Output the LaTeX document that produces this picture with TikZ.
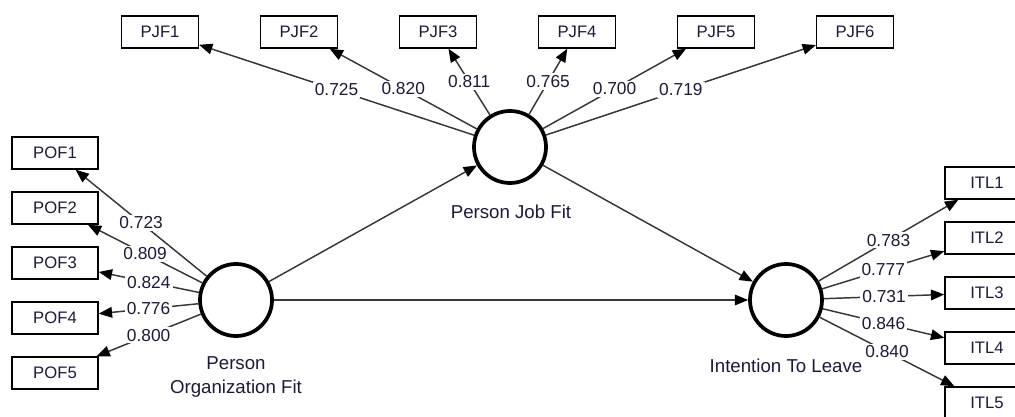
\documentclass[tikz,border=0pt]{standalone}
\usepackage{fontspec}
\setmainfont{Liberation Sans}
\usepackage{tikz}
\usetikzlibrary{positioning}
\usetikzlibrary{arrows.meta}
\definecolor{txtnavy}{RGB}{30,25,55}
\definecolor{edgegray}{RGB}{55,55,55}

\begin{document}
\begin{tikzpicture}[x=0.75pt, y=-0.75pt, node distance={104.25pt},
    >={Triangle[length=10pt,width=8pt,color=black]},
    latent/.style = {draw, circle, line width=2.8pt, minimum size=54pt, inner sep=0pt},
    ind/.style = {draw, rectangle, line width=1.1pt, minimum height=24pt, inner sep=0pt, text=txtnavy, font=\fontsize{12.5}{14}\selectfont},
    pjfbox/.style = {ind, minimum width=57.5pt},
    pofbox/.style = {ind, minimum width=64.5pt},
    itlbox/.style = {ind, minimum width=63pt},
    lvname/.style = {text=txtnavy, font=\fontsize{14}{18}\selectfont, align=center},
    load/.style = {fill=white, inner sep=1.5pt, text=txtnavy, font=\fontsize{13}{15}\selectfont},
    relpath/.style = {draw=edgegray, line width=1.1pt, ->}]
            \useasboundingbox (0,0) rectangle (1015,417);
            % Latent variables
            \node[latent] (pjf) at (510,147) {};
            \node[latent] (pof) at (236,300) {};
            \node[latent] (itl) at (786,300) {};
            \node[lvname] (pjfname) at (511,212) {Person Job Fit};
            \node[lvname] (pofname) at (236,377) {Person\\Organization Fit};
            \node[lvname] (itlname) at (786,366) {Intention To Leave};
            % Indicators
            \node[pjfbox] (pjf1) at (160,32) {PJF1};
            \node[pjfbox] (pjf2) [right of=pjf1] {PJF2};
            \node[pjfbox] (pjf3) [right of=pjf2] {PJF3};
            \node[pjfbox] (pjf4) [right of=pjf3] {PJF4};
            \node[pjfbox] (pjf5) [right of=pjf4] {PJF5};
            \node[pjfbox] (pjf6) [right of=pjf5] {PJF6};
            \node[pofbox] (pof1) at (55,153) {POF1};
            \node[pofbox] (pof2) [below of=pof1, node distance=41.25pt] {POF2};
            \node[pofbox] (pof3) [below of=pof2, node distance=41.25pt] {POF3};
            \node[pofbox] (pof4) [below of=pof3, node distance=41.25pt] {POF4};
            \node[pofbox] (pof5) [below of=pof4, node distance=41.25pt] {POF5};
            \node[itlbox] (itl1) at (987,183) {ITL1};
            \node[itlbox] (itl2) [below of=itl1, node distance=41.25pt] {ITL2};
            \node[itlbox] (itl3) [below of=itl2, node distance=41.25pt] {ITL3};
            \node[itlbox] (itl4) [below of=itl3, node distance=41.25pt] {ITL4};
            \node[itlbox] (itl5) [below of=itl4, node distance=41.25pt] {ITL5};
            % Structural paths
            \draw[relpath] (pof) -- (pjf);
            \draw[relpath] (pof) -- (itl);
            \draw[relpath] (pjf) -- (itl);
            % Loadings
            \draw[relpath] (pjf) -- node[load] {0.725} (pjf1);
            \draw[relpath] (pjf) -- node[load] {0.820} (pjf2);
            \draw[relpath] (pjf) -- node[load] {0.811} (pjf3);
            \draw[relpath] (pjf) -- node[load] {0.765} (pjf4);
            \draw[relpath] (pjf) -- node[load] {0.700} (pjf5);
            \draw[relpath] (pjf) -- node[load] {0.719} (pjf6);
            \draw[relpath] (pof) -- node[load] {0.723} (pof1);
            \draw[relpath] (pof) -- node[load] {0.809} (pof2);
            \draw[relpath] (pof) -- node[load] {0.824} (pof3);
            \draw[relpath] (pof) -- node[load] {0.776} (pof4);
            \draw[relpath] (pof) -- node[load] {0.800} (pof5);
            \draw[relpath] (itl) -- node[load] {0.783} (itl1);
            \draw[relpath] (itl) -- node[load] {0.777} (itl2);
            \draw[relpath] (itl) -- node[load] {0.731} (itl3);
            \draw[relpath] (itl) -- node[load] {0.846} (itl4);
            \draw[relpath] (itl) -- node[load] {0.840} (itl5);
\end{tikzpicture}
\end{document}
